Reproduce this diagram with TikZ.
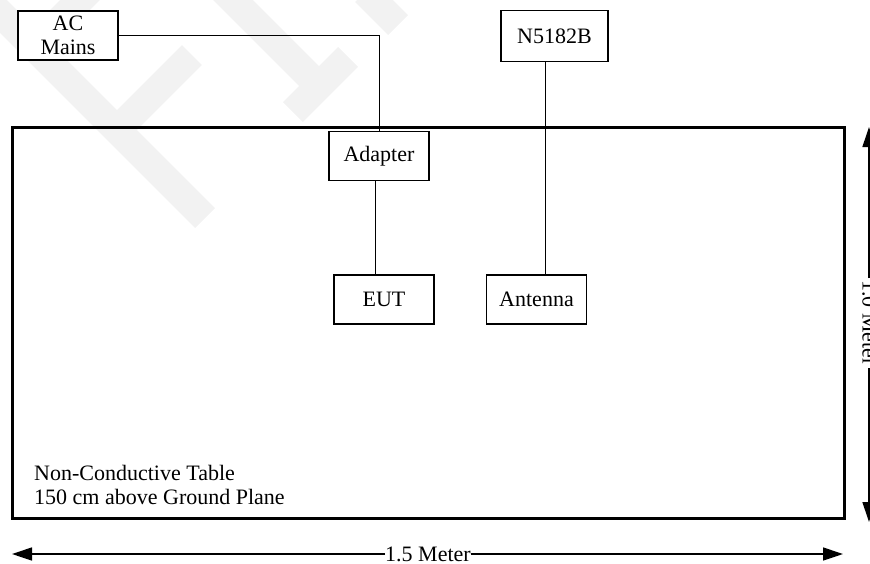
\documentclass[tikz,border=0pt]{standalone}
\usepackage{fontspec}
\setmainfont{Liberation Serif}
\usetikzlibrary{arrows.meta}
\tikzset{
  x=1pt,y=-1pt,
  wm/.style={line width=28pt,draw=black!5,line cap=butt},
  unit/.style={draw,line width=1.2pt,minimum width=100pt,minimum height=49pt,align=center,inner sep=0pt,font=\fontsize{22}{25}\selectfont,fill=white},
  wire/.style={line width=0.9pt},
  tablebox/.style={draw,line width=3pt},
  halfdim/.style={line width=1.4pt,-{Triangle[length=20pt,width=13pt]}},
  lab/.style={font=\fontsize{22}{25}\selectfont,inner sep=0pt,fill=white},
}
\begin{document}
\begin{tikzpicture}
\useasboundingbox (0,0) rectangle (870,563);
\clip (0,0) rectangle (870,563);
% watermark
\draw[wm] (-20,-7) -- (205,218);
\draw[wm] (117,130) -- (192,55);
\draw[wm] (95,-15) -- (30,50);
\draw[wm] (223,-10) -- (320,87);
\draw[wm] (348,57) -- (293,112);
\draw[wm] (365,-8) -- (398,25);
% table
\node[tablebox,minimum width=832pt,minimum height=391pt,inner sep=0pt] (table) at (428,322.5) {};
% wire ends
\coordinate (bend) at (379,35.5);
\coordinate (adin) at (379,132);
\coordinate (adout) at (375.5,180);
\coordinate (eutin) at (375.5,275);
\coordinate (sgout) at (545.5,62);
\coordinate (antin) at (545.5,275);
% units
\node[unit] (ac) at (68,35.5) {AC\\[-1pt]Mains};
\node[unit,minimum width=107pt,minimum height=51pt] (sg) at (554.5,36) {N5182B};
\node[unit] (adapter) at (379,156) {Adapter};
\node[unit] (eut) at (384,299.5) {EUT};
\node[unit] (ant) at (536.5,299.5) {Antenna};
% wires
\draw[wire] (ac.east) -- (bend) -- (adin);
\draw[wire] (adout) -- (eutin);
\draw[wire] (sgout) -- (antin);
% labels
\node[anchor=north west,align=left,inner sep=0pt,font=\fontsize{22}{24}\selectfont] (tablelabel) at (34,465.5) {Non-Conductive Table\\150 cm above Ground Plane};
% dimensions
\coordinate (wl) at (12,554);
\coordinate (wr) at (843,554);
\node[lab] (wlabel) at (428,554) {1.5 Meter};
\draw[halfdim] (wlabel.west) -- (wl);
\draw[halfdim] (wlabel.east) -- (wr);
\coordinate (ht) at (869,127);
\coordinate (hb) at (869,522);
\node[lab,rotate=-90,anchor=south] (hlabel) at (862,323) {1.0 Meter};
\draw[halfdim] (869,278) -- (ht);
\draw[halfdim] (869,368) -- (hb);
\end{tikzpicture}
\end{document}
